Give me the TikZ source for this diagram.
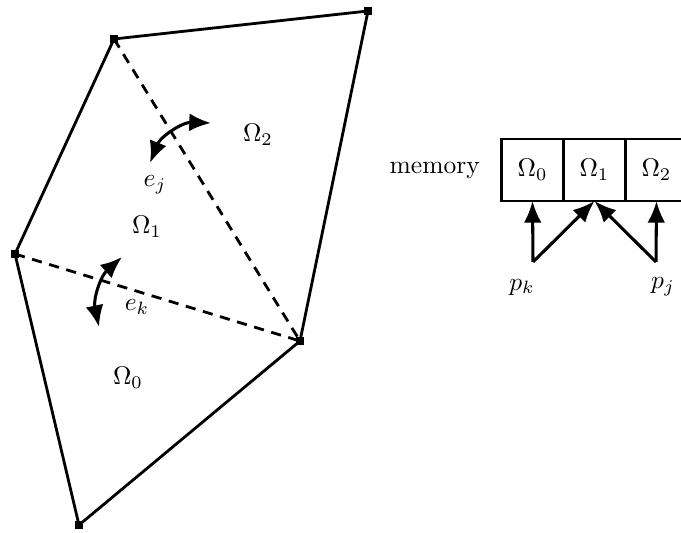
\documentclass[tikz,border=0pt]{standalone}
\usepackage{amsmath,amssymb}
\usepackage{tikz}
\usetikzlibrary{arrows.meta,positioning}

\begin{document}
\begin{tikzpicture}[
  x=0.392pt,y=-0.392pt,
  vert/.style={rectangle,fill,minimum size=3.5pt,inner sep=0pt},
  edge/.style={line width=1.1pt},
  cut/.style={line width=1.1pt,dash pattern=on 4pt off 3pt},
  flip/.style={{Latex[length=8.5pt,width=7pt]}-{Latex[length=8.5pt,width=7pt]},line width=1.2pt},
  arr/.style={-{Latex[length=8.5pt,width=7pt]},line width=1.2pt},
  cell/.style={draw,line width=1.1pt,minimum size=24.3pt,inner sep=0pt,outer sep=0pt}
]
\useasboundingbox (0,0) rectangle (681,533);
% mesh vertices
\node[vert] (va) at (79,525) {};
\node[vert] (vb) at (15,254) {};
\node[vert] (vc) at (114,39) {};
\node[vert] (vd) at (368,11) {};
\node[vert] (ve) at (300,341) {};
\draw[edge] (va.center) -- (vb.center) -- (vc.center) -- (vd.center) -- (ve.center) -- cycle;
\draw[cut] (vc.center) -- (ve.center);
\draw[cut] (vb.center) -- (ve.center);
% cells and edges
\node (o0) at (128,378) {$\Omega_0$};
\node (o1) at (147,227) {$\Omega_1$};
\node (o2) at (258,135) {$\Omega_2$};
\coordinate (ja) at (150,163);
\coordinate (jb) at (211,123);
\draw[flip] (ja) to[bend left=35] (jb);
\node (ej) at (155,185) {$e_j$};
\coordinate (ka) at (99,327);
\coordinate (kb) at (122,257);
\draw[flip] (ka) to[bend left=30] (kb);
\node (ek) at (137,307) {$e_k$};
% memory
\node[cell] (m0) at (532.5,170) {$\Omega_0$};
\node[cell,right=0pt of m0] (m1) {$\Omega_1$};
\node[cell,right=0pt of m1] (m2) {$\Omega_2$};
\node[left=5pt of m0] (mem) {memory};
\coordinate (pk) at (533,262);
\coordinate (pj) at (656,262);
\draw[arr] (pk) -- (m0.south);
\draw[arr] (pk) -- (m1.south);
\draw[arr] (pj) -- (m2.south);
\draw[arr] (pj) -- (m1.south);
\node (lk) at (522,287) {$p_k$};
\node (lj) at (663,287) {$p_j$};
\end{tikzpicture}
\end{document}
